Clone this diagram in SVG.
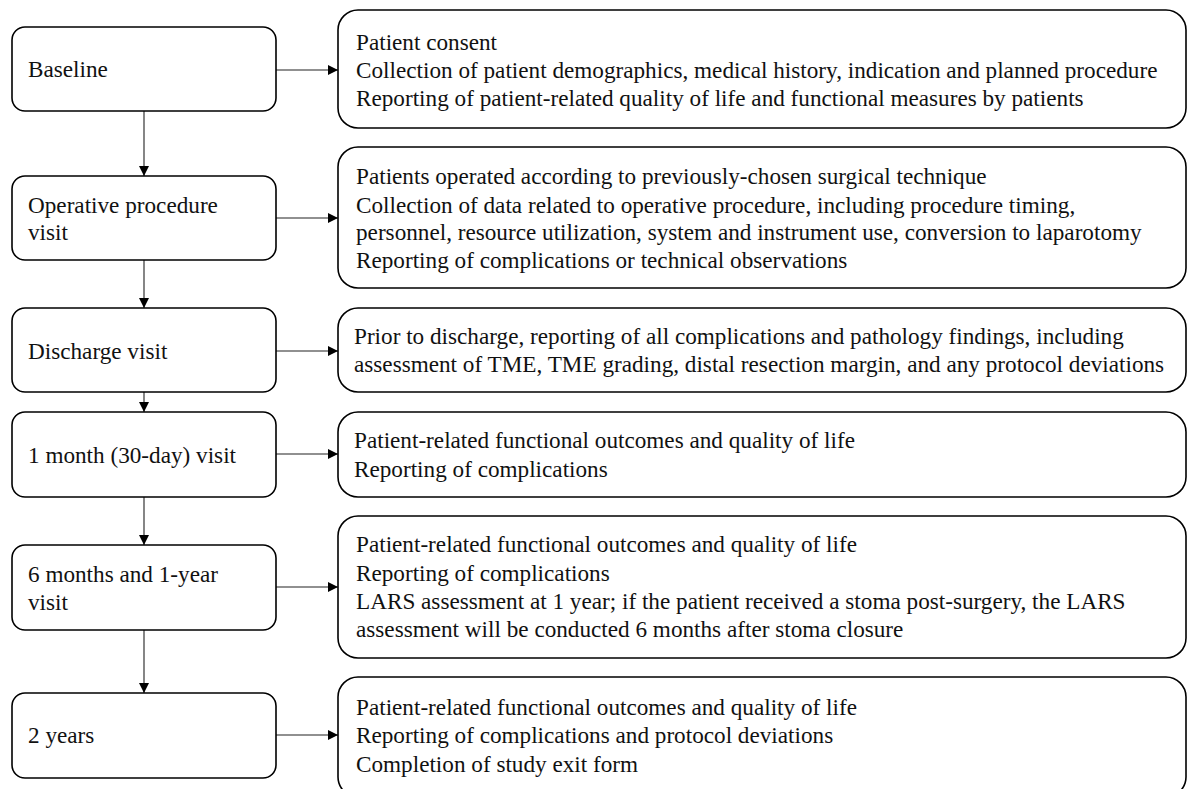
<svg xmlns="http://www.w3.org/2000/svg" width="1187" height="789" viewBox="0 0 1187 789">
<style>
.box{fill:#fff;stroke:#000;stroke-width:1.6}
.t{font-family:"Liberation Serif","Times New Roman",serif;font-size:23.2px;fill:#111}
.c{stroke:#222;stroke-width:1.1;fill:none}
</style>
<defs>
<marker id="ah" viewBox="0 0 10 10" refX="10" refY="5" markerWidth="10" markerHeight="10" markerUnits="userSpaceOnUse" orient="auto">
<path d="M0,0 L10,5 L0,10 z" fill="#000"/>
</marker>
</defs>
<rect width="1187" height="789" fill="#fff"/>
<g id="connectors">
<line class="c" x1="276" y1="70" x2="338" y2="70" marker-end="url(#ah)"/>
<line class="c" x1="276" y1="218" x2="338" y2="218" marker-end="url(#ah)"/>
<line class="c" x1="276" y1="351" x2="338" y2="351" marker-end="url(#ah)"/>
<line class="c" x1="276" y1="454" x2="338" y2="454" marker-end="url(#ah)"/>
<line class="c" x1="276" y1="587" x2="338" y2="587" marker-end="url(#ah)"/>
<line class="c" x1="276" y1="735" x2="338" y2="735" marker-end="url(#ah)"/>
<line class="c" x1="144" y1="111" x2="144" y2="176" marker-end="url(#ah)"/>
<line class="c" x1="144" y1="260" x2="144" y2="308" marker-end="url(#ah)"/>
<line class="c" x1="144" y1="392" x2="144" y2="412" marker-end="url(#ah)"/>
<line class="c" x1="144" y1="497" x2="144" y2="545" marker-end="url(#ah)"/>
<line class="c" x1="144" y1="630" x2="144" y2="693" marker-end="url(#ah)"/>
</g>
<g id="baseline">
<rect class="box" x="12" y="27" width="264" height="84" rx="13"/>
<text class="t" x="28" y="77">Baseline</text>
</g>
<g id="operative">
<rect class="box" x="12" y="176" width="264" height="84" rx="13"/>
<text class="t" x="28" y="213">Operative procedure</text>
<text class="t" x="28" y="240">visit</text>
</g>
<g id="discharge">
<rect class="box" x="12" y="308" width="264" height="84" rx="13"/>
<text class="t" x="28" y="359">Discharge visit</text>
</g>
<g id="month1">
<rect class="box" x="12" y="412" width="264" height="85" rx="13"/>
<text class="t" x="28" y="463">1 month (30-day) visit</text>
</g>
<g id="month6">
<rect class="box" x="12" y="545" width="264" height="85" rx="13"/>
<text class="t" x="28" y="582">6 months and 1-year</text>
<text class="t" x="28" y="610">visit</text>
</g>
<g id="years2">
<rect class="box" x="12" y="693" width="264" height="85" rx="13"/>
<text class="t" x="28" y="743">2 years</text>
</g>
<g id="baseline-details">
<rect class="box" x="338" y="10" width="848" height="118" rx="20"/>
<text class="t" x="356" y="50">Patient consent</text>
<text class="t" x="356" y="78">Collection of patient demographics, medical history, indication and planned procedure</text>
<text class="t" x="356" y="106">Reporting of patient-related quality of life and functional measures by patients</text>
</g>
<g id="operative-details">
<rect class="box" x="338" y="147" width="848" height="141" rx="20"/>
<text class="t" x="356" y="184">Patients operated according to previously-chosen surgical technique</text>
<text class="t" x="356" y="213">Collection of data related to operative procedure, including procedure timing,</text>
<text class="t" x="356" y="240">personnel, resource utilization, system and instrument use, conversion to laparotomy</text>
<text class="t" x="356" y="268">Reporting of complications or technical observations</text>
</g>
<g id="discharge-details">
<rect class="box" x="338" y="308" width="848" height="84" rx="20"/>
<text class="t" x="354" y="344">Prior to discharge, reporting of all complications and pathology findings, including</text>
<text class="t" x="354" y="372">assessment of TME, TME grading, distal resection margin, and any protocol deviations</text>
</g>
<g id="month1-details">
<rect class="box" x="338" y="412" width="848" height="85" rx="20"/>
<text class="t" x="354" y="448">Patient-related functional outcomes and quality of life</text>
<text class="t" x="354" y="477">Reporting of complications</text>
</g>
<g id="month6-details">
<rect class="box" x="338" y="516" width="848" height="142" rx="20"/>
<text class="t" x="356" y="552">Patient-related functional outcomes and quality of life</text>
<text class="t" x="356" y="581">Reporting of complications</text>
<text class="t" x="356" y="609">LARS assessment at 1 year; if the patient received a stoma post-surgery, the LARS</text>
<text class="t" x="356" y="637">assessment will be conducted 6 months after stoma closure</text>
</g>
<g id="years2-details">
<rect class="box" x="338" y="677" width="848" height="120" rx="20"/>
<text class="t" x="356" y="715">Patient-related functional outcomes and quality of life</text>
<text class="t" x="356" y="743">Reporting of complications and protocol deviations</text>
<text class="t" x="356" y="772">Completion of study exit form</text>
</g>
</svg>
